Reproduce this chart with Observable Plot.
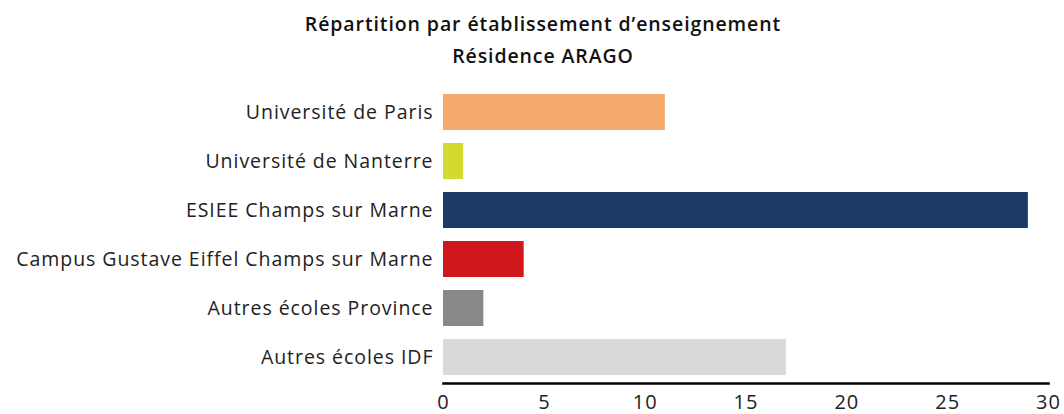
<!DOCTYPE html>
<html>
<head>
<meta charset="utf-8">
<script src="https://cdn.jsdelivr.net/npm/d3@7"></script>
<script src="https://cdn.jsdelivr.net/npm/@observablehq/plot@0.6"></script>
<style>
  body { margin: 0; background: #fff; font-family: "Open Sans", sans-serif; }
  #title { text-align: center; font-size: 19.5px; font-weight: 600; letter-spacing: 0.9px; line-height: 32px; padding-top: 8px; height: 64px; color: #111; width: 1086px; }
  #chart svg { display: block; }
  #chart svg text { letter-spacing: 0.95px; }
</style>
</head>
<body>
<div id="title">Répartition par établissement d’enseignement<br>Résidence ARAGO</div>
<div id="chart"></div>
<script>
const categories = [
  "Université de Paris",
  "Université de Nanterre",
  "ESIEE Champs sur Marne",
  "Campus Gustave Eiffel Champs sur Marne",
  "Autres écoles Province",
  "Autres écoles IDF"
];
const values = [11, 1, 29, 4, 2, 17];
const colors = ["#F5AB6E", "#D4DA2E", "#1B3B66", "#D0181C", "#888888", "#D9D9D9"];
const xTicks = [0, 5, 10, 15, 20, 25, 30];

const data = categories.map((c, i) => ({category: c, value: values[i], color: colors[i]}));

const plot = Plot.plot({
  width: 1064,
  height: 342,
  marginTop: 13,
  marginBottom: 31,
  marginLeft: 443,
  marginRight: 16,
  style: { fontFamily: "Open Sans, sans-serif", fontSize: "20px", color: "#222" },
  x: { domain: [0, 30], ticks: xTicks, label: null },
  y: { domain: categories, paddingInner: 0.27, paddingOuter: 0.135, label: null },
  marks: [
    Plot.barX(data, { x: "value", y: "category", fill: "color" }),
    Plot.frame({ anchor: "bottom", stroke: "#000", strokeWidth: 2.6 }),
    Plot.axisX({ ticks: xTicks, tickSize: 0, tickPadding: 11, label: null, fontSize: 20 }),
    Plot.axisY({ tickSize: 0, tickPadding: 10, label: null, fontSize: 19.5 })
  ]
});
document.getElementById("chart").appendChild(plot);
</script>
</body>
</html>
